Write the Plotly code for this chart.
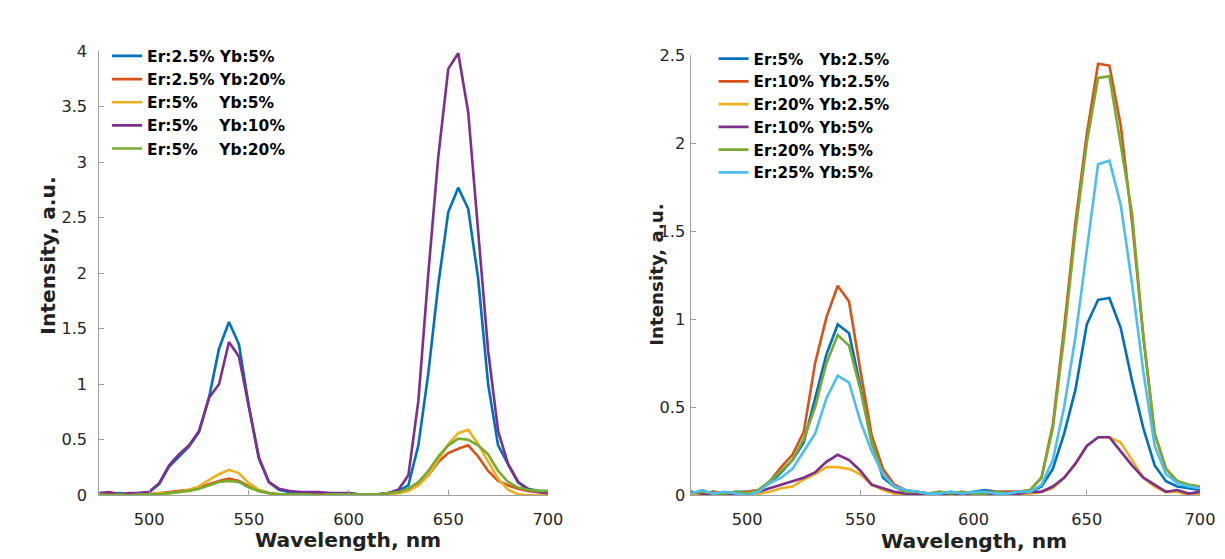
import plotly.graph_objects as go

# The page is photographed at a slight zoom-out (about 0.987), so the figure is laid out
# on a 1241 x 566 canvas; positions below are given in target-picture pixels.
REF_W, REF_H = 1225, 559
K = 1241 / 1225
W, H = 1241, 566

# wavelength grid (nm)
wl = list(range(475, 701, 5))

# ---- left panel data (rows: 475-520, 525-570, 575-620, 625-670, 675-700) ----
left_names = ["Er:2.5% Yb:5%", "Er:2.5% Yb:20%", "Er:5%\u00a0\u00a0\u00a0\u00a0Yb:5%",
              "Er:5%\u00a0\u00a0\u00a0\u00a0Yb:10%", "Er:5%\u00a0\u00a0\u00a0\u00a0Yb:20%"]
L_er25_yb5 = [0.02, 0.01, 0.02, 0.01, 0.02, 0.03, 0.10, 0.26, 0.35, 0.44,
              0.57, 0.88, 1.32, 1.56, 1.36, 0.80, 0.33, 0.12, 0.05, 0.03,
              0.03, 0.02, 0.02, 0.02, 0.01, 0.02, 0.01, 0.01, 0.01, 0.02,
              0.04, 0.09, 0.45, 1.10, 1.90, 2.55, 2.77, 2.58, 1.95, 1.00,
              0.45, 0.28, 0.12, 0.06, 0.04, 0.03]
L_er25_yb20 = [0.02, 0.01, 0.00, 0.01, 0.00, 0.01, 0.02, 0.03, 0.04, 0.05,
               0.07, 0.10, 0.13, 0.15, 0.13, 0.08, 0.04, 0.02, 0.01, 0.01,
               0.01, 0.00, 0.01, 0.00, 0.01, 0.00, 0.00, 0.01, 0.01, 0.02,
               0.03, 0.05, 0.10, 0.18, 0.30, 0.38, 0.42, 0.45, 0.35, 0.22,
               0.13, 0.09, 0.06, 0.04, 0.03, 0.02]
L_er5_yb5 = [0.01, 0.00, 0.01, 0.00, 0.01, 0.01, 0.02, 0.02, 0.03, 0.05,
             0.08, 0.14, 0.19, 0.23, 0.20, 0.11, 0.05, 0.02, 0.01, 0.01,
             0.00, 0.00, 0.00, 0.00, 0.00, 0.00, 0.00, 0.00, 0.01, 0.01,
             0.02, 0.04, 0.09, 0.18, 0.32, 0.46, 0.56, 0.59, 0.46, 0.30,
             0.15, 0.05, 0.01, 0.00, 0.00, 0.00]
L_er5_yb10 = [0.02, 0.03, 0.01, 0.02, 0.02, 0.03, 0.11, 0.27, 0.37, 0.45,
              0.58, 0.88, 1.00, 1.38, 1.25, 0.78, 0.34, 0.12, 0.06, 0.04,
              0.03, 0.03, 0.03, 0.02, 0.02, 0.02, 0.01, 0.01, 0.01, 0.02,
              0.05, 0.18, 0.85, 2.00, 3.05, 3.84, 3.98, 3.45, 2.40, 1.30,
              0.58, 0.28, 0.12, 0.05, 0.03, 0.02]
L_er5_yb20 = [0.01, 0.00, 0.01, 0.00, 0.01, 0.01, 0.01, 0.02, 0.03, 0.04,
              0.06, 0.09, 0.12, 0.13, 0.12, 0.07, 0.04, 0.02, 0.01, 0.01,
              0.01, 0.01, 0.00, 0.01, 0.01, 0.01, 0.01, 0.01, 0.01, 0.02,
              0.03, 0.06, 0.12, 0.22, 0.35, 0.45, 0.51, 0.50, 0.45, 0.37,
              0.22, 0.12, 0.07, 0.05, 0.04, 0.04]
left_series = [L_er25_yb5, L_er25_yb20, L_er5_yb5, L_er5_yb10, L_er5_yb20]

# ---- right panel data ----
right_names = ["Er:5%\u00a0\u00a0\u00a0Yb:2.5%", "Er:10% Yb:2.5%", "Er:20% Yb:2.5%",
               "Er:10% Yb:5%", "Er:20% Yb:5%", "Er:25% Yb:5%"]
R_er5_yb25 = [0.02, 0.01, 0.02, 0.01, 0.02, 0.02, 0.03, 0.07, 0.13, 0.20,
              0.30, 0.55, 0.80, 0.97, 0.92, 0.62, 0.30, 0.10, 0.05, 0.02,
              0.02, 0.01, 0.01, 0.02, 0.01, 0.02, 0.03, 0.02, 0.02, 0.02,
              0.02, 0.05, 0.15, 0.35, 0.60, 0.97, 1.11, 1.12, 0.95, 0.65,
              0.38, 0.17, 0.08, 0.05, 0.04, 0.03]
R_er10_yb25 = [0.01, 0.01, 0.02, 0.01, 0.01, 0.02, 0.03, 0.08, 0.16, 0.23,
               0.36, 0.75, 1.01, 1.19, 1.10, 0.71, 0.34, 0.15, 0.06, 0.03,
               0.02, 0.01, 0.02, 0.01, 0.02, 0.01, 0.02, 0.02, 0.02, 0.02,
               0.03, 0.10, 0.40, 0.95, 1.55, 2.05, 2.45, 2.44, 2.10, 1.55,
               0.90, 0.35, 0.15, 0.08, 0.06, 0.05]
R_er20_yb25 = [0.01, 0.00, 0.01, 0.01, 0.00, 0.01, 0.01, 0.02, 0.04, 0.05,
               0.09, 0.12, 0.16, 0.16, 0.15, 0.12, 0.06, 0.03, 0.01, 0.01,
               0.00, 0.01, 0.01, 0.00, 0.01, 0.00, 0.01, 0.01, 0.00, 0.01,
               0.01, 0.02, 0.04, 0.10, 0.18, 0.28, 0.33, 0.33, 0.30, 0.20,
               0.10, 0.05, 0.02, 0.02, 0.00, 0.01]
R_er10_yb5 = [0.02, 0.01, 0.00, 0.01, 0.01, 0.01, 0.02, 0.04, 0.06, 0.08,
              0.10, 0.13, 0.19, 0.23, 0.20, 0.14, 0.06, 0.04, 0.02, 0.01,
              0.01, 0.01, 0.00, 0.01, 0.01, 0.00, 0.01, 0.01, 0.01, 0.01,
              0.02, 0.02, 0.05, 0.10, 0.18, 0.28, 0.33, 0.33, 0.25, 0.17,
              0.10, 0.06, 0.02, 0.03, 0.01, 0.02]
R_er20_yb5 = [0.01, 0.02, 0.01, 0.01, 0.02, 0.01, 0.03, 0.08, 0.14, 0.20,
              0.32, 0.50, 0.75, 0.91, 0.85, 0.60, 0.30, 0.12, 0.05, 0.02,
              0.02, 0.01, 0.02, 0.01, 0.02, 0.01, 0.01, 0.02, 0.01, 0.02,
              0.03, 0.10, 0.38, 0.90, 1.50, 2.00, 2.37, 2.38, 2.00, 1.60,
              0.90, 0.35, 0.15, 0.08, 0.06, 0.05]
R_er25_yb5 = [0.01, 0.03, 0.01, 0.02, 0.01, 0.00, 0.02, 0.07, 0.10, 0.15,
              0.25, 0.35, 0.55, 0.68, 0.64, 0.42, 0.25, 0.12, 0.05, 0.03,
              0.02, 0.01, 0.01, 0.02, 0.01, 0.02, 0.02, 0.01, 0.01, 0.02,
              0.02, 0.06, 0.20, 0.50, 0.90, 1.40, 1.88, 1.90, 1.65, 1.20,
              0.70, 0.28, 0.12, 0.07, 0.05, 0.04]
right_series = [R_er5_yb25, R_er10_yb25, R_er20_yb25, R_er10_yb5, R_er20_yb5, R_er25_yb5]

left_colors = ["#0072BD", "#D95319", "#EDB120", "#7E2F8E", "#77AC30"]
right_colors = ["#0072BD", "#D95319", "#EDB120", "#7E2F8E", "#77AC30", "#4DBEEE"]

x_ticks = [500, 550, 600, 650, 700]
left_y_ticks = [0, 0.5, 1, 1.5, 2, 2.5, 3, 3.5, 4]
right_y_ticks = [0, 0.5, 1, 1.5, 2, 2.5]

FONT = "DejaVu Sans"


def s(v):
    """size in target-picture pixels -> canvas pixels"""
    return v * K


def si(v):
    return int(round(v * K))


def px(v):
    return v / REF_W


def py(v):
    return 1 - v / REF_H


fig = go.Figure()
for name, ys, c in zip(left_names, left_series, left_colors):
    fig.add_trace(go.Scatter(x=wl, y=ys, name=name, mode="lines", line=dict(color=c, width=s(2.6)),
                             xaxis="x", yaxis="y", legend="legend"))
for name, ys, c in zip(right_names, right_series, right_colors):
    fig.add_trace(go.Scatter(x=wl, y=ys, name=name, mode="lines", line=dict(color=c, width=s(2.6)),
                             xaxis="x2", yaxis="y2", legend="legend2"))

axis_common = dict(showgrid=False, zeroline=False, showline=True, linecolor="#a0a0a0", linewidth=1,
                   ticks="inside", ticklen=si(5), tickcolor="#a0a0a0",
                   tickfont=dict(family=FONT, size=s(16), color="#262626"))


def ann(text, x, y, size, angle=0):
    return dict(text=text, x=px(x), y=py(y), xref="paper", yref="paper", showarrow=False,
                xanchor="center", yanchor="middle", textangle=angle,
                font=dict(family=FONT, size=s(size), color="#222"))


annotations = [
    ann("<b>Intensity, a.u.</b>", 48, 252, 20, -90),
    ann("<b>Wavelength, nm</b>", 348, 543, 20),
    ann("<b>Intensity, a.u.</b>", 656, 272, 18, -90),
    ann("<b>Wavelength, nm</b>", 973, 544, 20),
]

fig.update_layout(
    width=W, height=H, margin=dict(l=0, r=0, t=0, b=0),
    paper_bgcolor="white", plot_bgcolor="white",
    showlegend=True,
    xaxis=dict(domain=[px(99.3), px(547.5)], range=[475, 700], tickvals=x_ticks, anchor="y",
               ticklabelstandoff=si(9), **axis_common),
    yaxis=dict(domain=[py(497), py(43)], range=[0, 4], tickvals=left_y_ticks, anchor="x",
               ticklabelstandoff=si(8), **axis_common),
    xaxis2=dict(domain=[px(690), px(1199)], range=[475, 700], tickvals=x_ticks, anchor="y2",
                ticklabelstandoff=si(9), **axis_common),
    yaxis2=dict(domain=[py(497), py(47)], range=[0, 2.5], tickvals=right_y_ticks, anchor="x2",
                ticklabelstandoff=si(1), **axis_common),
    legend=dict(x=px(107), y=py(31), xanchor="left", yanchor="top", bgcolor="rgba(255,255,255,0)",
                font=dict(family=FONT, size=s(15.3), color="black", weight="bold"),
                tracegroupgap=0, itemwidth=30),
    legend2=dict(x=px(713), y=py(34), xanchor="left", yanchor="top", bgcolor="rgba(255,255,255,0)",
                 font=dict(family=FONT, size=s(15), color="black", weight="bold"),
                 tracegroupgap=0, itemwidth=30),
    annotations=annotations,
)

fig.write_html("out.html",
               post_script="document.body.style.margin='0';document.body.style.padding='0';")
